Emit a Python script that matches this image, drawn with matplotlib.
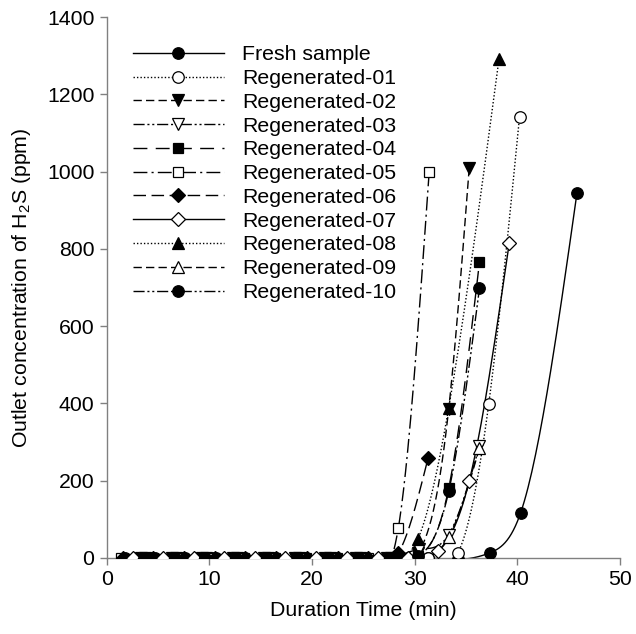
import numpy as np
import matplotlib
matplotlib.use("Agg")
import matplotlib.pyplot as plt

plt.rcParams['font.family'] = ['Liberation Sans', 'DejaVu Sans']
plt.rcParams['mathtext.fontset'] = 'custom'
plt.rcParams['mathtext.rm'] = 'Liberation Sans'
plt.rcParams['mathtext.it'] = 'Liberation Sans:italic'

# ---- data (time in min, H2S in ppm) ----
fresh_x = [1.8, 4.7, 7.6, 10.6, 13.5, 16.5, 19.4, 22.4, 25.3, 28.3, 31.3, 34.2, 37.3, 40.3, 45.8]
fresh_y = [0, 0, 0, 0, 0, 0, 0, 0, 0, 0, 0, -4, 13, 116, 945]

r01_x = [4.3, 7.3, 10.3, 13.3, 16.3, 19.3, 22.3, 25.3, 28.3, 31.3, 34.2, 37.2, 40.2]
r01_y = [0, 0, 0, 0, 0, 0, 0, 0, 0, 0, 13, 398, 1141]

r02_x = [3.3, 6.3, 9.3, 12.3, 15.3, 18.3, 21.3, 24.3, 27.3, 30.3, 33.3, 35.3]
r02_y = [0, 0, 0, 0, 0, 0, 0, 0, 0, 13, 385, 1009]

r03_x = [3.7, 6.7, 9.7, 12.7, 15.7, 18.7, 21.7, 24.7, 27.7, 30.4, 33.3, 36.3]
r03_y = [0, 0, 0, 0, 0, 0, 0, 0, 0, 22, 60, 290]

r04_x = [3.7, 6.6, 9.6, 12.6, 15.6, 18.6, 21.6, 24.6, 27.6, 30.3, 33.3, 36.3]
r04_y = [0, 0, 0, 0, 0, 0, 0, 0, 0, 5, 180, 766]

r05_x = [1.4, 4.4, 7.4, 10.4, 13.4, 16.4, 19.4, 22.4, 25.4, 28.4, 31.4]
r05_y = [0, 0, 0, 0, 0, 0, 0, 0, 0, 78, 999]

r06_x = [1.6, 4.5, 7.5, 10.5, 13.5, 16.5, 19.5, 22.5, 25.4, 28.4, 31.3]
r06_y = [0, 0, 0, 0, 0, 0, 0, 0, 0, 13, 259]

r07_x = [2.5, 5.5, 8.5, 11.4, 14.4, 17.4, 20.4, 23.4, 26.4, 29.3, 32.3, 35.3, 39.2]
r07_y = [0, 0, 0, 0, 0, 0, 0, 0, 0, 0, 18, 199, 815]

r08_x = [3.3, 6.3, 9.3, 12.3, 15.3, 18.3, 21.3, 24.3, 27.3, 30.3, 33.3, 38.2]
r08_y = [0, 0, 0, 0, 0, 0, 0, 0, 0, 49, 388, 1291]

r09_x = [3.5, 6.5, 9.5, 12.5, 15.5, 18.5, 21.5, 24.5, 27.5, 30.3, 33.3, 36.3]
r09_y = [0, 0, 0, 0, 0, 0, 0, 0, 0, 0, 54, 284]

r10_x = [3.7, 6.6, 9.6, 12.6, 15.6, 18.6, 21.6, 24.6, 27.6, 30.3, 33.3, 36.3]
r10_y = [0, 0, 0, 0, 0, 0, 0, 0, 0, 5, 172, 698]

labels = ["Fresh sample", "Regenerated-01", "Regenerated-02", "Regenerated-03",
          "Regenerated-04", "Regenerated-05", "Regenerated-06", "Regenerated-07",
          "Regenerated-08", "Regenerated-09", "Regenerated-10"]

series = [(fresh_x, fresh_y), (r01_x, r01_y), (r02_x, r02_y), (r03_x, r03_y),
          (r04_x, r04_y), (r05_x, r05_y), (r06_x, r06_y), (r07_x, r07_y),
          (r08_x, r08_y), (r09_x, r09_y), (r10_x, r10_y)]

# ---- styles ----
styles = [
    dict(ls='-', marker='o', mfc='black'),
    dict(ls=(0, (1, 1.5)), marker='o', mfc='white'),
    dict(ls=(0, (6, 3)), marker='v', mfc='black'),
    dict(ls=(0, (8, 2, 1.5, 2, 1.5, 2)), marker='v', mfc='white'),
    dict(ls=(0, (10, 6)), marker='s', mfc='black'),
    dict(ls=(0, (10, 3, 1.5, 3)), marker='s', mfc='white'),
    dict(ls=(0, (9, 4)), marker='D', mfc='black'),
    dict(ls='-', marker='D', mfc='white'),
    dict(ls=(0, (1, 1.5)), marker='^', mfc='black'),
    dict(ls=(0, (6, 3)), marker='^', mfc='white'),
    dict(ls=(0, (8, 2, 1.5, 2, 1.5, 2)), marker='o', mfc='black'),
]
msizes = {'o': 8.3, 'v': 8.3, '^': 8.3, 's': 7.2, 'D': 6.8}


def natural_spline(x, y, n=30):
    x = np.asarray(x, float)
    y = np.asarray(y, float)
    m = len(x)
    h = np.diff(x)
    A = np.zeros((m, m))
    b = np.zeros(m)
    A[0, 0] = 1
    A[-1, -1] = 1
    for i in range(1, m - 1):
        A[i, i - 1] = h[i - 1]
        A[i, i] = 2 * (h[i - 1] + h[i])
        A[i, i + 1] = h[i]
        b[i] = 6 * ((y[i + 1] - y[i]) / h[i] - (y[i] - y[i - 1]) / h[i - 1])
    M = np.linalg.solve(A, b)
    xs, ys = [], []
    for i in range(m - 1):
        t = np.linspace(x[i], x[i + 1], n, endpoint=False)
        a = x[i + 1] - t
        c = t - x[i]
        s = (M[i] * a ** 3 + M[i + 1] * c ** 3) / (6 * h[i]) \
            + (y[i] / h[i] - M[i] * h[i] / 6) * a \
            + (y[i + 1] / h[i] - M[i + 1] * h[i] / 6) * c
        xs.append(t)
        ys.append(s)
    xs.append([x[-1]])
    ys.append([y[-1]])
    return np.concatenate(xs), np.concatenate(ys)


fig = plt.figure(figsize=(6.36, 6.34), dpi=100)
ax = fig.add_axes([0.168, 0.12, 0.807, 0.853])

FS = 15.3
handles = []
for (xs, ys), st, lab in zip(series, styles, labels):
    sx, sy = natural_spline(xs, ys)
    ax.plot(sx, sy, color='black', lw=1.0, ls=st['ls'], zorder=2)
    ax.plot(xs, ys, ls='none', marker=st['marker'], mfc=st['mfc'], mec='black',
            mew=0.9, ms=msizes[st['marker']], zorder=3)
    h, = ax.plot([], [], color='black', lw=1.0, ls=st['ls'], marker=st['marker'],
                 mfc=st['mfc'], mec='black', mew=0.9, ms=msizes[st['marker']], label=lab)
    handles.append(h)

ax.set_xlim(0, 50)
ax.set_ylim(0, 1400)
ax.set_xticks([0, 10, 20, 30, 40, 50])
ax.set_yticks(np.arange(0, 1401, 200))

for s in ['top', 'right']:
    ax.spines[s].set_visible(False)
for s in ['left', 'bottom']:
    ax.spines[s].set_color('#808080')
    ax.spines[s].set_linewidth(1.0)
ax.tick_params(direction='out', length=5, width=1, color='#808080',
               labelsize=FS, labelcolor='black', pad=4)

ax.set_xlabel("Duration Time (min)", fontsize=FS, labelpad=8)
ax.set_ylabel("Outlet concentration of H$_2$S (ppm)", fontsize=FS, labelpad=10)

leg = ax.legend(handles=handles, loc='upper left', bbox_to_anchor=(0.05, 0.948),
                frameon=False, fontsize=FS, handlelength=4.3, handletextpad=0.85,
                labelspacing=0.225, borderpad=0, borderaxespad=0, numpoints=1)

fig.savefig("out.png", dpi=100)
